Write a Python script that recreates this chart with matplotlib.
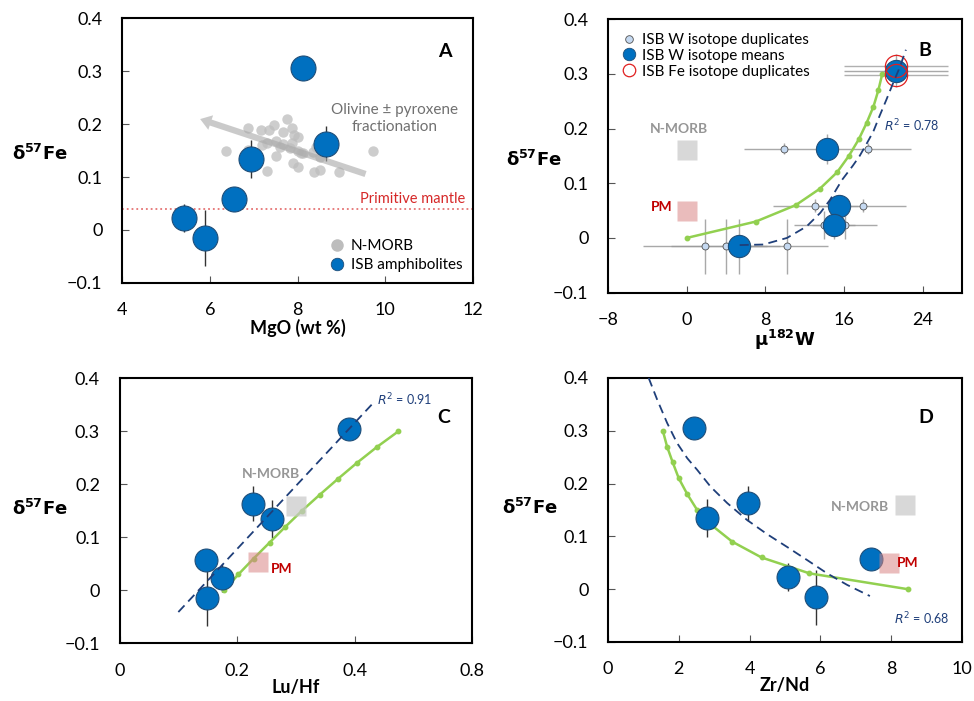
"""Fe isotope plots for the ISB amphibolites (panels A-D)."""

import matplotlib
matplotlib.use('Agg')
import matplotlib.pyplot as plt
from matplotlib.lines import Line2D

# ---- data ----
# ISB amphibolites (same six samples in A, C, D)
isb_fe = [0.305, 0.163, 0.134, 0.058, 0.023, -0.015]
isb_fe_err = [0.010, 0.033, 0.036, 0.015, 0.027, 0.052]
isb_mgo = [8.12, 8.65, 6.95, 6.56, 5.41, 5.89]
isb_luhf = [0.390, 0.227, 0.260, 0.147, 0.175, 0.149]
isb_zrnd = [2.44, 3.96, 2.80, 7.43, 5.09, 5.88]

# N-MORB compilation (panel A)
morb_mgo = [6.36, 6.86, 6.88, 7.16, 7.30, 7.30, 7.47, 7.50, 7.60, 7.66, 7.75,
            7.87, 7.88, 7.90, 8.02, 8.02, 8.07, 8.13, 8.36, 8.37, 8.51, 8.52,
            8.95, 9.72, 7.34, 7.18, 7.67, 7.83, 8.00, 8.43, 7.52, 7.91]
morb_fe = [0.150, 0.192, 0.151, 0.189, 0.164, 0.112, 0.198, 0.140, 0.157,
           0.185, 0.209, 0.192, 0.164, 0.126, 0.176, 0.119, 0.145, 0.145,
           0.148, 0.109, 0.138, 0.113, 0.109, 0.150, 0.189, 0.160, 0.162,
           0.154, 0.150, 0.157, 0.168, 0.180]
primitive_mantle_fe = 0.04

# panel B: W isotope means, duplicates and Fe duplicates
w_mean = [21.3, 14.3, 15.5, 15.0, 5.35]
w_mean_fe = [0.306, 0.163, 0.059, 0.024, -0.015]
w_mean_werr = [5.3, 0.0, 0.0, 0.0, 0.0]
w_mean_feerr = [0.030, 0.027, 0.012, 0.026, 0.050]
w_dup = [9.9, 18.4, 13.1, 17.9, 14.0, 16.1, 1.86, 3.96, 10.2]
w_dup_fe = [0.163, 0.163, 0.059, 0.059, 0.024, 0.024, -0.015, -0.015, -0.015]
w_dup_werr = [4.1, 4.4, 4.3, 4.4, 3.1, 3.3, 6.3, 5.5, 4.2]
w_dup_feerr = [0.010, 0.010, 0.012, 0.012, 0.026, 0.026, 0.050, 0.050, 0.050]
fe_dup_w = [21.3, 21.3]
fe_dup_fe = [0.314, 0.297]
fe_dup_werr = [5.3, 5.3]

# mixing models (green) and fits (dashed)
model_fe = [0.0, 0.03, 0.06, 0.09, 0.12, 0.15, 0.18, 0.21, 0.24, 0.27, 0.30]
model_w = [0.0, 7.04, 11.1, 13.55, 15.3, 16.5, 17.5, 18.3, 19.0, 19.5, 19.9]
model_luhf = [0.178, 0.202, 0.228, 0.255, 0.282, 0.310, 0.340, 0.371, 0.403,
              0.437, 0.474]
model_zrnd_fe = [0.30, 0.27, 0.24, 0.21, 0.18, 0.15, 0.12, 0.09, 0.06, 0.03, 0.0]
model_zrnd = [1.55, 1.67, 1.83, 2.0, 2.24, 2.52, 2.95, 3.51, 4.34, 5.69, 8.47]

fit_w = [5.4, 7.8, 10.2, 12.2, 13.6, 14.6, 15.8, 16.9, 17.6, 18.3, 19.0,
         19.6, 20.3, 21.0, 21.7, 22.3]
fit_w_fe = [-0.013, -0.012, 0.0, 0.021, 0.046, 0.070, 0.106, 0.132, 0.150,
            0.172, 0.195, 0.222, 0.252, 0.283, 0.313, 0.344]
fit_luhf = [0.10, 0.43]
fit_luhf_fe = [-0.041, 0.352]
fit_zrnd = [1.15, 1.39, 1.67, 1.95, 2.24, 2.52, 2.90, 3.37, 3.93, 4.50, 5.06,
            5.63, 6.19, 6.76, 7.40]
fit_zrnd_fe = [0.400, 0.359, 0.315, 0.277, 0.248, 0.226, 0.194, 0.163, 0.131,
               0.104, 0.080, 0.055, 0.030, 0.008, -0.013]

# reference reservoirs: (x, fe) for N-MORB and PM
ref_b = {'N-MORB': (0.0, 0.16), 'PM': (0.0, 0.05)}
ref_c = {'N-MORB': (0.30, 0.16), 'PM': (0.235, 0.053)}
ref_d = {'N-MORB': (8.4, 0.159), 'PM': (7.95, 0.05)}

fe_ticks = [-0.1, 0, 0.1, 0.2, 0.3, 0.4]
fe_tick_labels = ['\u22120.1', '0', '0.1', '0.2', '0.3', '0.4']

BLUE = '#0070c0'
BLUE_EDGE = '#1f4e79'
GREEN = '#92d050'
NAVY = '#1f3f7a'
GREY_SQ = '#c8c8c8'
PINK_SQ = '#d98585'

plt.rcParams['font.family'] = ['Lato', 'Noto Sans', 'DejaVu Sans']
plt.rcParams['mathtext.fontset'] = 'custom'
plt.rcParams['mathtext.rm'] = 'DejaVu Sans'
plt.rcParams['mathtext.it'] = 'DejaVu Sans:italic'
plt.rcParams['mathtext.bf'] = 'DejaVu Sans:bold'

FE_LABEL = r'$\mathbf{\delta^{57}Fe}$'


def style(ax, xlim, xticks, xticklabels, xlabel, ylab_xy):
    ax.set_xlim(*xlim)
    ax.set_ylim(-0.1, 0.4)
    ax.set_xticks(xticks)
    ax.set_xticklabels(xticklabels)
    ax.set_yticks(fe_ticks)
    ax.set_yticklabels(fe_tick_labels)
    ax.tick_params(direction='in', length=5, width=0.8, color='#555555',
                   labelsize=13, pad=14, top=False, right=False)
    for s in ax.spines.values():
        s.set_linewidth(1.5)
    ax.set_xlabel(xlabel, fontsize=13, fontweight='bold', labelpad=0)
    ax.set_ylabel(FE_LABEL, fontsize=13, fontweight='bold',
                  rotation=0, ha='center', va='center')
    ax.yaxis.set_label_coords(*ylab_xy)


def isb_points(ax, xs, ms=16.5):
    ax.errorbar(xs, isb_fe, yerr=isb_fe_err, fmt='none', ecolor='#333333',
                elinewidth=1, capsize=0, zorder=2)
    ax.plot(xs, isb_fe, 'o', ms=ms, mfc=BLUE, mec=BLUE_EDGE, mew=0.8,
            ls='none', zorder=4)


def reservoirs(ax, refs):
    for name, (x, y) in refs.items():
        c = GREY_SQ if name == 'N-MORB' else PINK_SQ
        a = 0.7 if name == 'N-MORB' else 0.55
        ax.plot([x], [y], 's', ms=15, mfc=c, mec='none', alpha=a, zorder=6)


def reservoir_label(ax, name, x, y, ha):
    c = '#969696' if name == 'N-MORB' else '#c00000'
    ax.text(x, y, name, color=c, fontsize=10, fontweight='bold', ha=ha,
            va='center', zorder=7)


def model_line(ax, xs, ys):
    ax.plot(xs, ys, '-o', color=GREEN, lw=1.8, ms=3.2, zorder=3)


def fit_line(ax, xs, ys):
    ax.plot(xs, ys, color=NAVY, lw=1.3, ls=(0, (5, 3)), zorder=5)


fig = plt.figure(figsize=(9.74, 7.01), dpi=100)
axA = fig.add_axes([0.1253, 0.5963, 0.3604, 0.3780])
axB = fig.add_axes([0.6242, 0.5825, 0.3634, 0.3902])
axC = fig.add_axes([0.1227, 0.0823, 0.3624, 0.3780])
axD = fig.add_axes([0.6242, 0.0842, 0.3634, 0.3766])

# ---- A ----
style(axA, (4, 12), [4, 6, 8, 10, 12], ['4', '6', '8', '10', '12'],
      'MgO (wt %)', (-0.234, 0.49))
axA.plot(morb_mgo, morb_fe, 'o', ms=7.5, mfc='#bdbdbd', mec='none',
         alpha=0.75, ls='none', zorder=2)
axA.annotate('', xy=(5.72, 0.211), xytext=(9.61, 0.104),
             arrowprops=dict(arrowstyle='simple,head_width=1.1,head_length=0.8,'
                                        'tail_width=0.45',
                             mutation_scale=10, color='#a8a8a8', alpha=0.6,
                             lw=0), zorder=3)
axA.text(10.22, 0.211, 'Olivine \u00b1 pyroxene\nfractionation', color='#707070',
         fontsize=11, ha='center', va='center', linespacing=1.25)
axA.axhline(primitive_mantle_fe, color='#e57373', ls=':', lw=1.3, zorder=1)
axA.text(11.82, primitive_mantle_fe + 0.006, 'Primitive mantle', color='#d62828',
         fontsize=10.5, ha='right', va='bottom')
isb_points(axA, isb_mgo, ms=18)
axA.text(0.92, 0.872, 'A', transform=axA.transAxes, fontsize=14,
         fontweight='bold', ha='center', va='center')
hA = [Line2D([], [], marker='o', ls='none', ms=9, mfc='#bdbdbd', mec='none'),
      Line2D([], [], marker='o', ls='none', ms=9, mfc=BLUE, mec=BLUE_EDGE,
             mew=0.6)]
axA.legend(hA, ['N-MORB', 'ISB amphibolites'], loc='lower right',
           frameon=False, fontsize=11, handlelength=1.0, handletextpad=0.4,
           labelspacing=0.35, borderaxespad=0.3)

# ---- B ----
style(axB, (-8, 28), [-8, 0, 8, 16, 24], ['\u22128', '0', '8', '16', '24'],
      r'$\mathbf{\mu^{182}W}$', (-0.209, 0.49))
axB.errorbar(w_dup, w_dup_fe, xerr=w_dup_werr, yerr=w_dup_feerr, fmt='none',
             ecolor='#9a9a9a', elinewidth=1, capsize=0, alpha=0.85, zorder=1)
axB.errorbar(w_mean, w_mean_fe, xerr=w_mean_werr, yerr=w_mean_feerr,
             fmt='none', ecolor='#9a9a9a', elinewidth=1, capsize=0,
             alpha=0.85, zorder=1)
axB.errorbar(fe_dup_w, fe_dup_fe, xerr=fe_dup_werr, fmt='none',
             ecolor='#b0b0b0', elinewidth=1, capsize=0, zorder=1)
model_line(axB, model_w, model_fe)
axB.plot(w_dup, w_dup_fe, 'o', ms=5, mfc='#c5d9f1', mec='#505050', mew=0.6,
         ls='none', zorder=3)
axB.plot(w_mean, w_mean_fe, 'o', ms=16, mfc=BLUE, mec=BLUE_EDGE, mew=0.8,
         ls='none', zorder=4)
axB.plot(fe_dup_w, fe_dup_fe, 'o', ms=16, mfc='none', mec='#e02020', mew=0.9,
         ls='none', zorder=5)
fit_line(axB, fit_w, fit_w_fe)
reservoirs(axB, ref_b)
reservoir_label(axB, 'N-MORB', -0.8, 0.199, 'center')
reservoir_label(axB, 'PM', -1.42, 0.057, 'right')
axB.text(22.9, 0.205, '$R^2$ = 0.78', color=NAVY, fontsize=9, ha='center',
         va='center')
axB.text(0.895, 0.887, 'B', transform=axB.transAxes, fontsize=14,
         fontweight='bold', ha='center', va='center')
hB = [Line2D([], [], marker='o', ls='none', ms=5.5, mfc='#c5d9f1',
             mec='#505050', mew=0.6),
      Line2D([], [], marker='o', ls='none', ms=9, mfc=BLUE, mec=BLUE_EDGE,
             mew=0.6),
      Line2D([], [], marker='o', ls='none', ms=9, mfc='none', mec='#e02020',
             mew=0.9)]
axB.legend(hB, ['ISB W isotope duplicates', 'ISB W isotope means',
                'ISB Fe isotope duplicates'], loc='upper left',
           bbox_to_anchor=(0, 1), frameon=False, fontsize=11,
           handlelength=1.0, handletextpad=0.3, labelspacing=0.12,
           borderaxespad=0.5)

# ---- C ----
style(axC, (0, 0.6), [0, 0.2, 0.4, 0.6], ['0', '0.2', '0.4', '0.8'],
      'Lu/Hf', (-0.225, 0.51))
model_line(axC, model_luhf, model_fe)
isb_points(axC, isb_luhf)
fit_line(axC, fit_luhf, fit_luhf_fe)
reservoirs(axC, ref_c)
reservoir_label(axC, 'N-MORB', 0.258, 0.220, 'center')
reservoir_label(axC, 'PM', 0.257, 0.041, 'left')
axC.text(0.485, 0.36, '$R^2$ = 0.91', color=NAVY, fontsize=9, ha='center',
         va='center')
axC.text(0.917, 0.851, 'C', transform=axC.transAxes, fontsize=14,
         fontweight='bold', ha='center', va='center')

# ---- D ----
style(axD, (0, 10), [0, 2, 4, 6, 8, 10], ['0', '2', '4', '6', '8', '10'],
      'Zr/Nd', (-0.22, 0.51))
model_line(axD, model_zrnd, model_zrnd_fe)
isb_points(axD, isb_zrnd)
fit_line(axD, fit_zrnd, fit_zrnd_fe)
reservoirs(axD, ref_d)
reservoir_label(axD, 'N-MORB', 7.93, 0.156, 'right')
reservoir_label(axD, 'PM', 8.17, 0.050, 'left')
axD.text(8.86, -0.056, '$R^2$ = 0.68', color=NAVY, fontsize=9, ha='center',
         va='center')
axD.text(0.897, 0.852, 'D', transform=axD.transAxes, fontsize=14,
         fontweight='bold', ha='center', va='center')

fig.savefig('out.png', dpi=100)
